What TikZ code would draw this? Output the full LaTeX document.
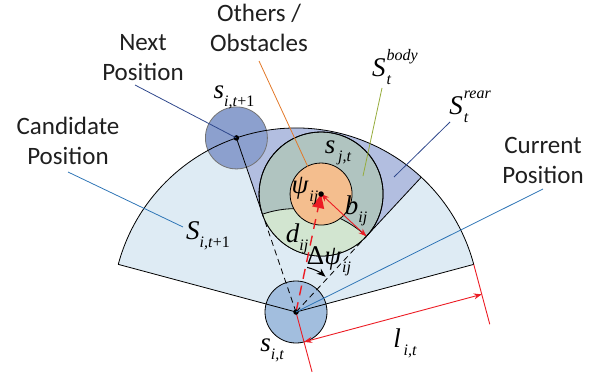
\documentclass[tikz,border=0pt]{standalone}
\usepackage{fontspec}
\setmainfont{Carlito}
\newfontfamily\mfont{Liberation Serif}
\usetikzlibrary{arrows.meta,positioning,calc}
\definecolor{secfill}{RGB}{222,235,244}
\definecolor{rearfill}{RGB}{178,190,224}
\definecolor{nextfill}{RGB}{140,160,206}
\definecolor{bodyfill}{RGB}{176,196,192}
\definecolor{corefill}{RGB}{244,190,142}
\definecolor{nearfill}{RGB}{210,229,208}
\definecolor{curfill}{RGB}{162,190,222}
\definecolor{lblue}{RGB}{46,117,182}
\definecolor{ldblue}{RGB}{47,72,140}
\definecolor{lolive}{RGB}{150,172,60}
\definecolor{lorange}{RGB}{226,120,40}
\definecolor{dimred}{RGB}{236,28,36}
\newcommand{\mvar}[2]{{\mfont\itshape #1\raisebox{-0.3em}{\fontsize{16bp}{16bp}\selectfont #2}}}
\newcommand{\mvarss}[3]{{\mfont\itshape #1\kern1bp\rlap{\raisebox{-0.3em}{\fontsize{16bp}{16bp}\selectfont #3}}\raisebox{0.6em}{\fontsize{16bp}{16bp}\selectfont #2}}}
\tikzset{
  txt/.style={font=\fontsize{25bp}{30bp}\selectfont, align=center, text=black!88},
  mlab/.style={font=\fontsize{27bp}{30bp}\selectfont, inner sep=0pt},
  edge/.style={black, line width=0.8bp},
  lead/.style={line width=0.8bp},
  shadow/.style={black, line width=0.8bp, dash pattern=on 6bp off 4bp},
  reddash/.style={dimred, line width=1.4bp, dash pattern=on 10bp off 7bp},
  redarr/.style={{Stealth[length=8bp]}-{Stealth[length=8bp]}, dimred, line width=0.9bp},
  dot/.style={circle, fill=black, inner sep=0pt, minimum size=5.5bp},
}
\begin{document}
\begin{tikzpicture}[x=1bp, y=1bp]
    \def\R{184} \def\rb{62} \def\rc{31} \def\rt{103.4}
    \useasboundingbox (0,0) rectangle (602,381);
    % points of the scene
    \coordinate (C) at (296,69);
    \coordinate (O) at ($(C)+(78:120.6)$);
    \coordinate (TL) at ($(C)+(108.9:\rt)$);
    \coordinate (TR) at ($(C)+(47.1:\rt)$);
    \coordinate (N) at ($(C)+(108.9:\R)$);
    \coordinate (AR) at ($(C)+(47.1:\R)$);
    \coordinate (E1) at ($(C)+(15:\R)$);
    \coordinate (E2) at ($(C)+(165:\R)$);
    % candidate sector and rear shadow
    \fill[secfill] (C) -- (E1) arc (15:165:\R) -- cycle;
    \fill[rearfill] (TL) -- (N) arc (108.9:47.1:\R) -- (TR) -- (O) -- cycle;
    \fill[nextfill, draw=black!55, line width=0.8bp] (N) circle (\rc);
    \draw[edge] (E2) -- (C) -- (E1) arc (15:165:\R);
    \draw[edge] (TL) -- (N);
    \draw[edge] (TR) -- (AR);
    % obstacle body
    \filldraw[fill=bodyfill, draw=black, line width=0.8bp] (O) circle (\rb);
    \begin{scope}
      \clip (O) circle (\rb);
      \fill[nearfill] (C) circle (\rt);
    \end{scope}
    \draw[edge] (O) circle (\rb);
    \draw[edge] (TL) arc (108.9:47.1:\rt);
    \filldraw[fill=corefill, draw=black, line width=0.8bp] (O) circle (\rc);
    % current position
    \filldraw[fill=curfill, draw=black, line width=0.8bp] (C) circle (\rc);
    \draw[edge] ($(C)+(165:\rc)$) -- (C) -- ($(C)+(15:\rc)$);
    \draw[shadow] (C) -- (TL);
    \draw[shadow] (C) -- (TR);
    % distances and angles
    \draw[reddash, -{Triangle[length=14bp, width=12bp]}] (C) -- (O);
    \draw[redarr] (O) -- (TR);
    \draw[-{Stealth[length=9bp]}, black, line width=1bp] ($(C)+(76:46)$) arc (76:50:46);
    \coordinate (X1) at ($(C)+(-75:62)$);
    \coordinate (X2) at ($(E1)+(-75:62)$);
    \draw[dimred, line width=0.9bp] (C) -- (X1);
    \draw[dimred, line width=0.9bp] (E1) -- (X2);
    \draw[redarr] ($(C)+(-75:31)$) -- ($(E1)+(-75:31)$);
    % dots
    \node[dot] (dC) at (C) {};
    \node[dot] (dN) at (N) {};
    \node[dot] (dO) at (O) {};
    % math labels
    \node[mlab] (Scand) at (208,145) {\mvar{S}{i,t\textup{+1}}};
    \node[mlab] (snext) at (234,284) {\mvar{s}{i,t\textup{+1}}};
    \node[mlab] (Sbody) at (395,314) {\mvarss{S}{body}{t}};
    \node[mlab] (Srear) at (470,274) {\mvarss{S}{rear}{t}};
    \node[mlab] (sjt) at (338,228) {\mvar{s}{\,j,t}};
    \node[mlab] (psi) at (305,190) {\mvar{ψ}{\kern1bp ij}};
    \node[mlab] (bij) at (356,170) {\mvar{b}{ij}};
    \node[mlab] (dij) at (297,142) {\mvar{d}{ij}};
    \node[mlab] (dpsi) at (329,120) {{\mfont\upshape Δ}\mvar{ψ}{\kern1bp ij}};
    \node[mlab] (sit) at (272,31) {\mvar{s}{i,t}};
    \node[mlab] (lit) at (405,38) {\mvar{l}{\,i,t}};
    % text labels
    \node[txt] (tnext) at (143,323) {Next\\Position};
    \node[txt] (tobst) at (259,353) {Others /\\Obstacles};
    \node[txt] (tcand) at (68,240) {Candidate\\Position};
    \node[txt] (tcur) at (543,221) {Current\\Position};
    % leader lines
    \coordinate (lnext) at (135,296);
    \coordinate (lobst0) at (259,320);
    \coordinate (lobst1) at (308,214);
    \coordinate (lbody0) at (382,293);
    \coordinate (lbody1) at (363,205);
    \coordinate (lrear0) at (450,259);
    \coordinate (lrear1) at (394,204);
    \coordinate (lcand0) at (68,209);
    \coordinate (lcand1) at (183,154);
    \coordinate (lcur) at (543,192);
    \draw[lead, ldblue] (lnext) -- (N);
    \draw[lead, lorange] (lobst0) -- (lobst1);
    \draw[lead, lolive] (lbody0) -- (lbody1);
    \draw[lead, ldblue] (lrear0) -- (lrear1);
    \draw[lead, lblue] (lcand0) -- (lcand1);
    \draw[lead, lblue] (lcur) -- (C);
\end{tikzpicture}
\end{document}
